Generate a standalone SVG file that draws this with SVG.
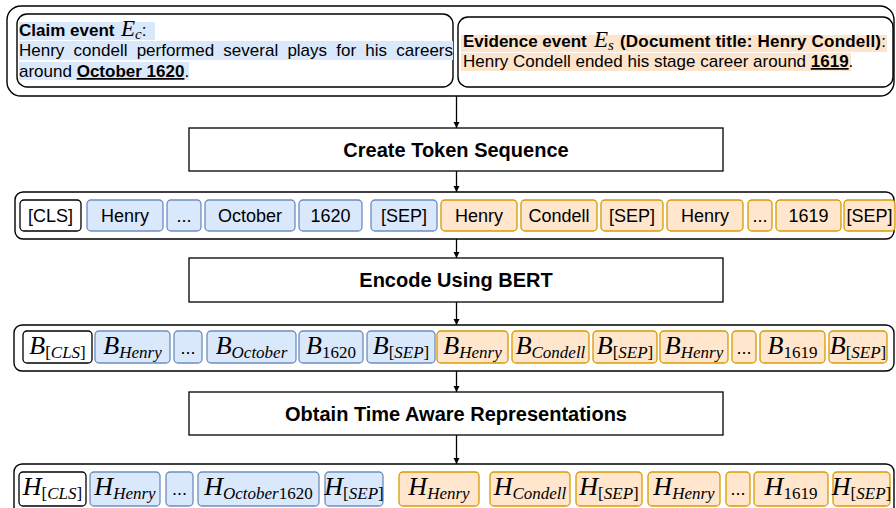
<svg xmlns="http://www.w3.org/2000/svg" width="896" height="508" viewBox="0 0 896 508">
<style>
.cont{fill:#fff;stroke:#000;stroke-width:1.4}
.proc{fill:#fff;stroke:#000;stroke-width:1.3}
.ptxt{font-family:"Liberation Sans",Arial,sans-serif;font-weight:bold;font-size:20px;text-anchor:middle;fill:#000}
.tw{fill:#fff;stroke:#000;stroke-width:1.3}
.tb{fill:#dae8fc;stroke:#6c8ebf;stroke-width:1.3}
.to{fill:#ffe6cc;stroke:#d79b00;stroke-width:1.3}
.tok{font-family:"Liberation Sans",Arial,sans-serif;font-size:18px;text-anchor:middle;fill:#000}
.m{font-family:"Liberation Serif","Times New Roman",serif;font-style:italic;font-size:26px;text-anchor:middle;fill:#000}
.s{font-size:17px}
.up{font-style:normal}
.txt{font-family:"Liberation Sans",Arial,sans-serif;font-size:17px;fill:#000}
.b{font-weight:bold}
.em{font-family:"Liberation Serif","Times New Roman",serif;font-style:italic;font-size:23px;font-weight:normal}
.hb{fill:#dae8fc}
.ho{fill:#fde4cc}
.conn{stroke:#000;stroke-width:1.3;fill:none;marker-end:url(#ah)}
</style>
<defs>
<marker id="ah" markerWidth="7" markerHeight="7" refX="6" refY="3.5" orient="auto" markerUnits="userSpaceOnUse">
<path d="M0,0.5 L6,3.5 L0,6.5 z" fill="#000"/>
</marker>
</defs>

<g id="events">
<rect class="cont" x="7" y="6" width="887" height="90" rx="14"/>
<g id="claim">
<rect class="cont" x="17" y="14" width="436" height="73" rx="10"/>
<rect class="hb" x="19" y="22" width="136" height="18"/>
<rect class="hb" x="19" y="41" width="434" height="19"/>
<rect class="hb" x="19" y="62" width="170" height="18"/>
<text class="txt" x="19" y="36"><tspan class="b">Claim event</tspan></text>
<text class="txt" x="121" y="36"><tspan class="em">E</tspan><tspan class="em" style="font-size:15px" dy="3">c</tspan><tspan dy="-3">:</tspan></text>
<text class="txt" x="19" y="56" style="word-spacing:4.5px">Henry condell performed several plays for his careers</text>
<text class="txt" x="19" y="77">around <tspan class="b" text-decoration="underline">October 1620</tspan>.</text>
</g>
<g id="evidence">
<rect class="cont" x="458" y="17" width="435" height="70" rx="10"/>
<rect class="ho" x="461" y="35" width="426" height="17"/>
<rect class="ho" x="461" y="53" width="390" height="18"/>
<text class="txt b" x="463" y="47">Evidence event</text>
<text class="txt" x="594" y="47"><tspan class="em">E</tspan><tspan class="em" style="font-size:15px" dy="3">s</tspan></text>
<text class="txt" x="620" y="47" style="letter-spacing:0.2px"><tspan class="b">(Document title: Henry Condell)</tspan>:</text>
<text class="txt" x="463" y="67">Henry Condell ended his stage career around <tspan class="b" text-decoration="underline">1619</tspan>.</text>
</g>
</g>

<g id="step1">
<rect class="proc" x="189" y="128" width="534" height="43"/>
<text class="ptxt" x="456" y="156.5">Create Token Sequence</text>
</g>

<g id="tokens">
<rect class="cont" x="15" y="192" width="879" height="47" rx="8"/>
<rect class="tw" x="20" y="200" width="61" height="31" rx="4"/><text class="tok" x="50.5" y="222">[CLS]</text>
<rect class="tb" x="87" y="200" width="76" height="31" rx="4"/><text class="tok" x="125" y="222">Henry</text>
<rect class="tb" x="167" y="200" width="34" height="31" rx="4"/><text class="tok" x="184" y="222">...</text>
<rect class="tb" x="205" y="200" width="90" height="31" rx="4"/><text class="tok" x="250" y="222">October</text>
<rect class="tb" x="299" y="200" width="63" height="31" rx="4"/><text class="tok" x="330.5" y="222">1620</text>
<rect class="tb" x="371" y="200" width="66" height="31" rx="4"/><text class="tok" x="404" y="222">[SEP]</text>
<rect class="to" x="441" y="200" width="76" height="31" rx="4"/><text class="tok" x="479" y="222">Henry</text>
<rect class="to" x="521" y="200" width="76" height="31" rx="4"/><text class="tok" x="559" y="222">Condell</text>
<rect class="to" x="601" y="200" width="62" height="31" rx="4"/><text class="tok" x="632" y="222">[SEP]</text>
<rect class="to" x="667" y="200" width="76" height="31" rx="4"/><text class="tok" x="705" y="222">Henry</text>
<rect class="to" x="748" y="200" width="24" height="31" rx="4"/><text class="tok" x="760" y="222">...</text>
<rect class="to" x="776" y="200" width="65" height="31" rx="4"/><text class="tok" x="808.5" y="222">1619</text>
<rect class="to" x="844" y="200" width="51" height="31" rx="4"/><text class="tok" x="869.5" y="222">[SEP]</text>
</g>

<g id="step2">
<rect class="proc" x="189" y="258" width="534" height="44"/>
<text class="ptxt" x="456" y="287">Encode Using BERT</text>
</g>

<g id="bert">
<rect class="cont" x="14" y="325" width="880" height="46" rx="8"/>
<rect class="tw" x="23" y="331" width="69" height="32" rx="4"/><text class="m" x="57.5" y="354">B<tspan class="s" dy="4"><tspan class="up">[</tspan>CLS<tspan class="up">]</tspan></tspan></text>
<rect class="tb" x="95" y="331" width="75" height="32" rx="4"/><text class="m" x="132.5" y="354">B<tspan class="s" dy="4">Henry</tspan></text>
<rect class="tb" x="174" y="331" width="28" height="32" rx="4"/><text class="tok" x="188" y="354">...</text>
<rect class="tb" x="207" y="331" width="89" height="32" rx="4"/><text class="m" x="251.5" y="354">B<tspan class="s" dy="4">October</tspan></text>
<rect class="tb" x="299" y="331" width="64" height="32" rx="4"/><text class="m" x="331" y="354">B<tspan class="s up" dy="4">1620</tspan></text>
<rect class="tb" x="367" y="331" width="68" height="32" rx="4"/><text class="m" x="401" y="354">B<tspan class="s" dy="4"><tspan class="up">[</tspan>SEP<tspan class="up">]</tspan></tspan></text>
<rect class="to" x="437" y="331" width="71" height="32" rx="4"/><text class="m" x="472.5" y="354">B<tspan class="s" dy="4">Henry</tspan></text>
<rect class="to" x="512" y="331" width="77" height="32" rx="4"/><text class="m" x="550.5" y="354">B<tspan class="s" dy="4">Condell</tspan></text>
<rect class="to" x="593" y="331" width="64" height="32" rx="4"/><text class="m" x="625" y="354">B<tspan class="s" dy="4"><tspan class="up">[</tspan>SEP<tspan class="up">]</tspan></tspan></text>
<rect class="to" x="660" y="331" width="68" height="32" rx="4"/><text class="m" x="694" y="354">B<tspan class="s" dy="4">Henry</tspan></text>
<rect class="to" x="732" y="331" width="24" height="32" rx="4"/><text class="tok" x="744" y="354">...</text>
<rect class="to" x="760" y="331" width="65" height="32" rx="4"/><text class="m" x="792.5" y="354">B<tspan class="s up" dy="4">1619</tspan></text>
<rect class="to" x="829" y="331" width="58" height="32" rx="4"/><text class="m" x="858" y="354">B<tspan class="s" dy="4"><tspan class="up">[</tspan>SEP<tspan class="up">]</tspan></tspan></text>
</g>

<g id="step3">
<rect class="proc" x="189" y="392" width="534" height="43"/>
<text class="ptxt" x="456" y="420.5">Obtain Time Aware Representations</text>
</g>

<g id="timeaware">
<rect class="cont" x="14" y="464" width="880" height="60" rx="8"/>
<rect class="tw" x="19" y="472" width="67" height="34" rx="4"/><text class="m" x="52.5" y="495">H<tspan class="s" dy="4"><tspan class="up">[</tspan>CLS<tspan class="up">]</tspan></tspan></text>
<rect class="tb" x="90" y="472" width="70" height="34" rx="4"/><text class="m" x="125" y="495">H<tspan class="s" dy="4">Henry</tspan></text>
<rect class="tb" x="166" y="472" width="27" height="34" rx="4"/><text class="tok" x="179.5" y="495">...</text>
<rect class="tb" x="198" y="472" width="121" height="34" rx="4"/><text class="m" x="258.5" y="495">H<tspan class="s" dy="4">October<tspan class="up">1620</tspan></tspan></text>
<rect class="tb" x="325" y="472" width="58" height="34" rx="4"/><text class="m" x="354" y="495">H<tspan class="s" dy="4"><tspan class="up">[</tspan>SEP<tspan class="up">]</tspan></tspan></text>
<rect class="to" x="399" y="472" width="80" height="34" rx="4"/><text class="m" x="439" y="495">H<tspan class="s" dy="4">Henry</tspan></text>
<rect class="to" x="490" y="472" width="80" height="34" rx="4"/><text class="m" x="530" y="495">H<tspan class="s" dy="4">Condell</tspan></text>
<rect class="to" x="576" y="472" width="66" height="34" rx="4"/><text class="m" x="609" y="495">H<tspan class="s" dy="4"><tspan class="up">[</tspan>SEP<tspan class="up">]</tspan></tspan></text>
<rect class="to" x="648" y="472" width="72" height="34" rx="4"/><text class="m" x="684" y="495">H<tspan class="s" dy="4">Henry</tspan></text>
<rect class="to" x="726" y="472" width="24" height="34" rx="4"/><text class="tok" x="738" y="495">...</text>
<rect class="to" x="754" y="472" width="74" height="34" rx="4"/><text class="m" x="791" y="495">H<tspan class="s up" dy="4">1619</tspan></text>
<rect class="to" x="833" y="472" width="57" height="34" rx="4"/><text class="m" x="861.5" y="495">H<tspan class="s" dy="4"><tspan class="up">[</tspan>SEP<tspan class="up">]</tspan></tspan></text>
</g>

<g id="connectors">
<line class="conn" x1="456.5" y1="96" x2="456.5" y2="128"/>
<line class="conn" x1="456.5" y1="171" x2="456.5" y2="192"/>
<line class="conn" x1="456.5" y1="239" x2="456.5" y2="258"/>
<line class="conn" x1="456.5" y1="302" x2="456.5" y2="325"/>
<line class="conn" x1="456.5" y1="371" x2="456.5" y2="392"/>
<line class="conn" x1="456.5" y1="435" x2="456.5" y2="464"/>
</g>
</svg>
